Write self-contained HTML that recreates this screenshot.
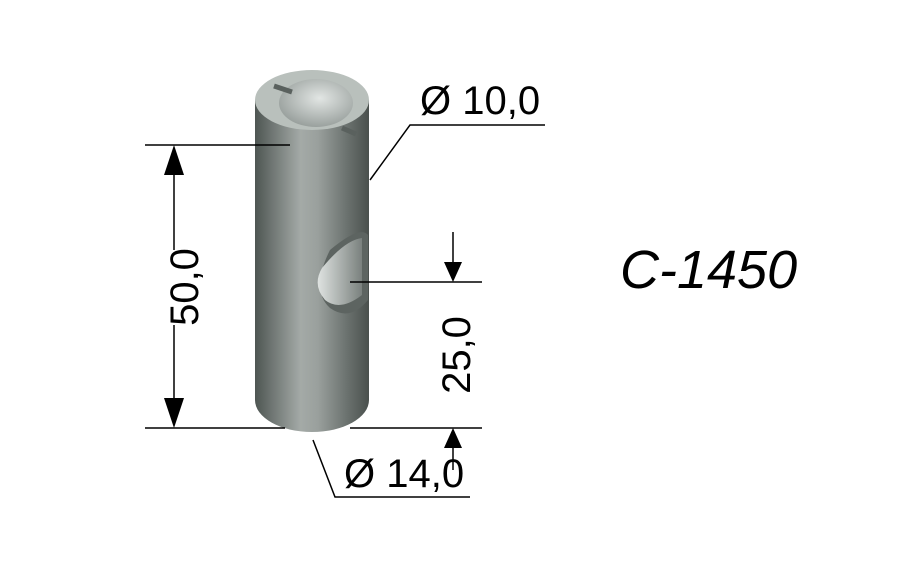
<!DOCTYPE html>
<html><head><style>body{margin:0;background:#fff}</style></head><body>
<svg width="912" height="567" viewBox="0 0 912 567" xmlns="http://www.w3.org/2000/svg" font-family="Liberation Sans, sans-serif">
<defs>
<linearGradient id="cyl" x1="0" x2="1" y1="0" y2="0">
<stop offset="0" stop-color="#4e5552"/><stop offset="0.15" stop-color="#6f7673"/>
<stop offset="0.4" stop-color="#a4aaa7"/><stop offset="0.55" stop-color="#9aa09d"/>
<stop offset="0.8" stop-color="#6c7370"/><stop offset="1" stop-color="#4a504d"/></linearGradient>
<radialGradient id="inner" cx="0.55" cy="0.4" r="0.6"><stop offset="0" stop-color="#e2e6e4"/><stop offset="1" stop-color="#9aa19e"/></radialGradient>
<linearGradient id="hole" x1="0" x2="1"><stop offset="0" stop-color="#dfe3e1"/><stop offset="1" stop-color="#7a817e"/></linearGradient>
</defs>
<path d="M255 100 L255 400 A57 32 0 0 0 369 400 L369 100 Z" fill="url(#cyl)"/>
<ellipse cx="312" cy="100" rx="57" ry="30" fill="#b9c0bc"/>
<ellipse cx="316" cy="103" rx="37" ry="24" fill="url(#inner)"/>
<path d="M274 86 L292 92 M342 128 L356 134" stroke="#5a615e" stroke-width="5"/>
<path d="M330 250 Q360 225 368 235 L368 300 Q350 322 330 308 Q310 290 330 250Z" fill="#5d6461"/>
<path d="M322 268 Q345 240 362 238 L362 295 Q340 312 325 300 Q312 285 322 268Z" fill="url(#hole)"/>
<g stroke="#000" stroke-width="1.5" fill="none">
<path d="M145 145 H290 M145 428 H285 M174 160 V250 M174 325 V413"/>
<path d="M350 282 H482 M350 428 H482 M453 232 V268 M453 442 V470"/>
<path d="M370 180 L410 125 H545 M313 440 L335 497 H470"/>
</g>
<g fill="#000">
<path d="M164 175 L184 175 L174 145 Z M164 398 L184 398 L174 428 Z"/>
<path d="M444 262 L462 262 L453 282 Z M444 448 L462 448 L453 428 Z"/>
</g>
<g font-size="40" fill="#000">
<text x="420" y="114">Ø 10,0</text>
<text x="344" y="487">Ø 14,0</text>
<text transform="translate(198,287) rotate(-90)" text-anchor="middle">50,0</text>
<text transform="translate(470,355) rotate(-90)" text-anchor="middle">25,0</text>
</g>
<text x="620" y="288" font-size="54" font-style="italic">C-1450</text>
</svg>
</body></html>
